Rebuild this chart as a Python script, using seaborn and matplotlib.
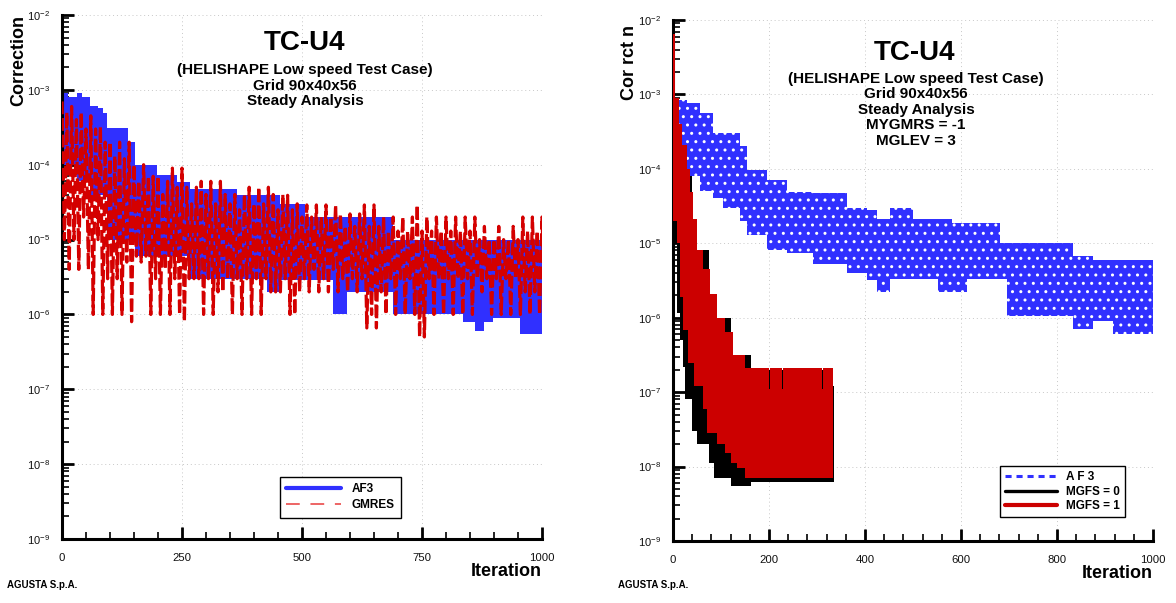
import numpy as np
import pandas as pd
import matplotlib
matplotlib.use("Agg")
import matplotlib.pyplot as plt
import seaborn as sns
from matplotlib.lines import Line2D
from matplotlib.ticker import LogLocator, NullFormatter, MultipleLocator

# ------------------------------------------------------------------ data
# Left panel, AF3 : envelope of the oscillating history (step-wise)
af3_l_it = [0, 12, 31, 42, 58, 75, 85, 94, 106, 137, 152, 198, 240, 267, 365, 398, 427, 454, 506, 565,
            594, 690, 835, 860, 880, 898, 954, 1000]
af3_l_hi = [9e-4, 8e-4, 9e-4, 8e-4, 6e-4, 5.7e-4, 4.9e-4, 3.1e-4, 3.1e-4, 2.0e-4, 1.0e-4, 7.2e-5, 5.9e-5,
            4.7e-5, 3.9e-5, 3.9e-5, 3.9e-5, 3.0e-5, 2.0e-5, 2.0e-5, 2.0e-5, 1.0e-5, 1.0e-5, 1.0e-5,
            1.0e-5, 1.0e-5, 1.0e-5, 1.0e-5]
af3_l_lo = [1e-4, 1e-4, 6e-5, 6e-5, 4e-5, 4e-5, 4e-5, 1e-5, 1e-5, 1e-5, 6e-6, 6e-6, 6e-6, 3e-6, 3e-6,
            3e-6, 2e-6, 2.9e-6, 2.9e-6, 1e-6, 2e-6, 1e-6, 8e-7, 6e-7, 8e-7, 9e-7, 5.5e-7, 5.5e-7]

# Left panel, GMRES : peaks (at iteration i) and troughs (at i+5), every 10 iterations
gmres_it = list(range(0, 1001, 10))
gmres_hi = [7e-4, 5e-4, 6e-4, 4e-4, 5e-4, 3e-4, 4.5e-4, 3e-4, 3.2e-4, 2e-4,
            2e-4, 1.3e-4, 2e-4, 1.2e-4, 2e-4, 1e-4, 6e-5, 1e-4, 7e-5, 7e-5,
            7e-5, 4e-5, 6e-5, 9e-5, 5e-5, 9e-5, 5e-5, 3e-5, 5e-5, 6e-5,
            4e-5, 6e-5, 3e-5, 6e-5, 4e-5, 3e-5, 4e-5, 2.5e-5, 4e-5, 5e-5,
            3e-5, 5e-5, 3e-5, 5e-5, 4e-5, 2.5e-5, 4e-5, 3.9e-5, 2.5e-5, 3e-5,
            2e-5, 2.9e-5, 2e-5, 2.9e-5, 2e-5, 2.9e-5, 2e-5, 2.9e-5, 2.2e-5, 1.5e-5,
            2.2e-5, 1.5e-5, 2.2e-5, 2.9e-5, 1.5e-5, 2.9e-5, 1.5e-5, 2e-5, 1.3e-5, 2e-5,
            1.3e-5, 2e-5, 1.3e-5, 2e-5, 2.9e-5, 1.3e-5, 2e-5, 1.3e-5, 2e-5, 1.3e-5,
            2e-5, 1.3e-5, 2e-5, 1.3e-5, 2e-5, 1.3e-5, 2e-5, 1e-5, 1.5e-5, 1e-5,
            1e-5, 1.5e-5, 1e-5, 1e-5, 1.5e-5, 1e-5, 2e-5, 1.3e-5, 2e-5, 1.3e-5, 2e-5]
gmres_lo = [1e-5, 4e-6, 1e-5, 4e-6, 2e-5, 4e-6, 1e-6, 1e-5, 1e-6, 3e-6,
            1e-6, 3e-6, 1e-6, 5e-6, 8e-7, 6e-6, 5e-6, 6e-6, 1e-6, 3e-6,
            1e-6, 4e-6, 1e-6, 3e-6, 1e-6, 8e-7, 3e-6, 3e-6, 3e-6, 1e-6,
            3e-6, 1e-6, 2e-6, 2e-6, 3e-6, 1e-6, 3e-6, 1e-6, 3e-6, 1e-6,
            3e-6, 1e-6, 3e-6, 2e-6, 2e-6, 2e-6, 3e-6, 1e-6, 1e-6, 2e-6,
            3e-6, 2e-6, 4e-6, 2e-6, 3e-6, 2e-6, 4e-6, 2e-6, 3e-6, 2e-6,
            3e-6, 2e-6, 3e-6, 6.6e-7, 1e-6, 6.6e-7, 2e-6, 1e-6, 3e-6, 1e-6,
            3e-6, 1e-6, 3e-6, 1e-6, 5e-7, 5e-7, 3e-6, 1e-6, 3e-6, 1e-6,
            3e-6, 1e-6, 3e-6, 1e-6, 3e-6, 1e-6, 3e-6, 2e-6, 3e-6, 1e-6,
            3e-6, 1e-6, 3e-6, 1e-6, 3e-6, 1e-6, 2e-6, 1e-6, 2e-6, 1e-6, 2e-6]

# Right panel, AF3 envelope
af3_r_it = [4, 29, 56, 83, 104, 140, 154, 196, 237, 292, 362, 404, 425, 452, 500, 552, 581, 612, 681,
            696, 833, 875, 917, 1000]
af3_r_hi = [8.5e-4, 7.6e-4, 5.6e-4, 3.0e-4, 3.0e-4, 2.0e-4, 9.6e-5, 7.0e-5, 4.9e-5, 4.7e-5, 3.0e-5,
            2.8e-5, 2.1e-5, 3.0e-5, 2.1e-5, 2.1e-5, 1.9e-5, 1.9e-5, 1.0e-5, 1.0e-5, 6.7e-6, 6.0e-6,
            6.0e-6, 6.0e-6]
af3_r_lo = [1.5e-4, 8.0e-5, 5.0e-5, 4.0e-5, 3.0e-5, 2.0e-5, 1.3e-5, 8.0e-6, 7.5e-6, 5.2e-6, 4.0e-6,
            3.2e-6, 2.2e-6, 3.3e-6, 3.3e-6, 2.2e-6, 2.2e-6, 3.3e-6, 3.3e-6, 1.05e-6, 7.0e-7, 9.0e-7,
            6.0e-7, 5.5e-7]

# Right panel, MGFS = 0 envelope
mg0_it = [0, 2, 8, 15, 21, 25, 40, 50, 75, 85, 121, 162, 333, 336]
mg0_hi = [9e-4, 8e-4, 4e-4, 2e-4, 1e-4, 8e-5, 2e-5, 8e-6, 2e-6, 1e-6, 3.2e-7, 2e-7, 1.2e-7, 1.2e-7]
mg0_lo = [1e-4, 1e-5, 1.15e-6, 5e-7, 2.2e-7, 8e-8, 3e-8, 2e-8, 1.1e-8, 7.1e-9, 5.4e-9, 6.3e-9,
          6.3e-9, 6.3e-9]

# Right panel, MGFS = 1 envelope
mg1_it = [0, 5, 8, 12, 15, 19, 21, 29, 31, 35, 42, 44, 50, 62, 71, 77, 92, 108, 121, 125,
          133, 150, 200, 203, 227, 230, 310, 312, 333]
mg1_hi = [6.5e-3, 9e-4, 9e-4, 4e-4, 4e-4, 2.1e-4, 2.1e-4, 1e-4, 1e-4, 4.9e-5, 2.1e-5, 2.1e-5, 8.2e-6,
          4.5e-6, 4.5e-6, 2.1e-6, 1e-6, 6.5e-7, 6.5e-7, 3.2e-7, 3.2e-7, 2.1e-7, 1.1e-7, 2.1e-7,
          1.1e-7, 2.1e-7, 1.1e-7, 2.1e-7, 2.1e-7]
mg1_lo = [2e-5, 2e-5, 1e-5, 1e-5, 1.9e-6, 1.9e-6, 6.8e-7, 6.8e-7, 2.5e-7, 2.5e-7, 2.5e-7, 1.2e-7,
          1.2e-7, 6e-8, 2.8e-8, 2.8e-8, 2e-8, 1.5e-8, 1.1e-8, 1.1e-8, 9.5e-9, 7e-9, 7e-9, 7e-9,
          7e-9, 7e-9, 7e-9, 7e-9, 7e-9]

title_main = "TC-U4"
left_sub = ["(HELISHAPE Low speed Test Case)", "Grid 90x40x56", "Steady Analysis"]
right_sub = ["(HELISHAPE Low speed Test Case)", "Grid 90x40x56", "Steady Analysis",
             "MYGMRS = -1", "MGLEV = 3"]
left_legend = ["AF3", "GMRES"]
right_legend = ["A F 3", "MGFS = 0", "MGFS = 1"]

# ------------------------------------------------------------------ style
BLUE = "#3030ff"
RED_L = "#d40000"
RED_R = "#cc0000"

sns.set_theme(style="white")
plt.rcParams.update({
    "font.family": ["Liberation Sans", "DejaVu Sans"],
    "mathtext.fontset": "custom",
    "mathtext.rm": "Liberation Sans",
    "mathtext.it": "Liberation Sans:italic",
    "mathtext.bf": "Liberation Sans:bold",
    "hatch.linewidth": 1.0,
    "hatch.color": "white",
    "axes.edgecolor": "black",
    "text.color": "black",
    "axes.labelcolor": "black",
    "xtick.color": "black",
    "ytick.color": "black",
})

W, H = 1176, 603
fig = plt.figure(figsize=(W / 100, H / 100), dpi=100)


def fx(px):
    return px / W


def fy(py):
    return 1 - py / H


axL = fig.add_axes([fx(62), fy(539), (542 - 62) / W, (539 - 15) / H])
axR = fig.add_axes([fx(673), fy(541), (1153 - 673) / W, (541 - 20) / H])


def style_axis(ax, major, minor):
    ax.set_yscale("log")
    ax.set_ylim(1e-9, 1e-2)
    ax.set_xlim(0, 1000)
    ax.xaxis.set_major_locator(MultipleLocator(major))
    ax.xaxis.set_minor_locator(MultipleLocator(minor))
    ax.yaxis.set_major_locator(LogLocator(base=10, numticks=20))
    ax.yaxis.set_minor_locator(LogLocator(base=10, subs=np.arange(2, 10), numticks=20))
    ax.yaxis.set_minor_formatter(NullFormatter())
    for s in ["top", "right"]:
        ax.spines[s].set_visible(False)
    for s in ["left", "bottom"]:
        ax.spines[s].set_linewidth(2.2)
        ax.spines[s].set_color("black")
    ax.tick_params(which="both", direction="in", left=True, bottom=True, top=False, right=False,
                   color="black")
    ax.tick_params(which="major", length=8.6, width=2)
    ax.tick_params(which="minor", length=5, width=1.2)
    ax.tick_params(axis="x", which="major", pad=10, labelsize=8.2, labelcolor="#111111")
    ax.tick_params(axis="y", which="major", pad=8.6, labelsize=8.0, labelcolor="#111111")
    ax.grid(True, which="major", ls=(0, (1, 3)), color="#c8c8c8", lw=0.7)
    ax.set_axisbelow(True)
    ax.set_xlabel("")
    ax.set_ylabel("")


style_axis(axL, 250, 50)
style_axis(axR, 200, 40)

# ------------------------------------------------------------------ left panel
axL.fill_between(af3_l_it, af3_l_lo, af3_l_hi, step="post", color=BLUE, lw=0, zorder=2)

zz_x = np.empty(2 * len(gmres_it))
zz_y = np.empty(2 * len(gmres_it))
zz_x[0::2] = gmres_it
zz_x[1::2] = np.array(gmres_it) + 5
zz_y[0::2] = gmres_hi
zz_y[1::2] = gmres_lo
gm_df = pd.DataFrame({"iteration": zz_x, "correction": zz_y})
sns.lineplot(data=gm_df, x="iteration", y="correction", ax=axL, color=RED_L, lw=2.3,
             linestyle=(0, (4, 1.2)), estimator=None, sort=False, legend=False, zorder=3)
axL.set_xlabel("")
axL.set_ylabel("")

# ------------------------------------------------------------------ right panel
axR.fill_between(af3_r_it, af3_r_lo, af3_r_hi, step="post", facecolor=BLUE, edgecolor="white",
                 hatch="..", lw=0, zorder=2)
axR.fill_between(mg0_it, mg0_lo, mg0_hi, step="post", color="black", lw=0, zorder=3)
axR.fill_between(mg1_it, mg1_lo, mg1_hi, step="post", color=RED_R, lw=0, zorder=4)

# ------------------------------------------------------------------ legends
hL = [Line2D([], [], color=BLUE, lw=3),
      Line2D([], [], color="#e83a3a", lw=1.1, ls=(0, (9, 7)))]
legL = axL.legend(hL, left_legend, loc="upper left", bbox_to_anchor=(fx(280), fy(477)),
                  bbox_transform=fig.transFigure, borderaxespad=0, frameon=True, fancybox=False,
                  framealpha=1, edgecolor="black", handlelength=4.6, handletextpad=0.9,
                  borderpad=0.55, labelspacing=0.3, prop={"weight": "bold", "size": 8.5})
legL.get_frame().set_linewidth(1.0)

hR = [Line2D([], [], color=BLUE, lw=2.2, ls=(0, (2, 1.6))),
      Line2D([], [], color="black", lw=2.4),
      Line2D([], [], color=RED_R, lw=3)]
legR = axR.legend(hR, right_legend, loc="upper left", bbox_to_anchor=(fx(1000), fy(466)),
                  bbox_transform=fig.transFigure, borderaxespad=0, frameon=True, fancybox=False,
                  framealpha=1, edgecolor="black", handlelength=4.4, handletextpad=0.7,
                  borderpad=0.45, labelspacing=0.2, prop={"weight": "bold", "size": 8.5})
legR.get_frame().set_linewidth(1.0)

# ------------------------------------------------------------------ texts
fig.text(fx(305), fy(43), title_main, ha="center", va="center", fontsize=20, weight="bold")
for t, y in zip(left_sub, [70, 86, 101]):
    fig.text(fx(305), fy(y), t, ha="center", va="center", fontsize=11, weight="bold")

fig.text(fx(915), fy(53), title_main, ha="center", va="center", fontsize=20, weight="bold")
for t, y in zip(right_sub, [79, 94, 110, 125, 141]):
    fig.text(fx(916), fy(y), t, ha="center", va="center", fontsize=11, weight="bold")

fig.text(fx(19), fy(60), "Correction", rotation=90, ha="center", va="center", fontsize=13,
         weight="bold")
fig.text(fx(630), fy(62), "Cor rct n", rotation=90, ha="center", va="center", fontsize=13,
         weight="bold")

fig.text(fx(542), fy(572), "Iteration", ha="right", va="center", fontsize=13, weight="bold")
fig.text(fx(1153), fy(573), "Iteration", ha="right", va="center", fontsize=13, weight="bold")

fig.text(fx(7), fy(585), "AGUSTA S.p.A.", ha="left", va="center", fontsize=7, weight="bold")
fig.text(fx(618), fy(585), "AGUSTA S.p.A.", ha="left", va="center", fontsize=7, weight="bold")

fig.savefig("out.png", dpi=100)
